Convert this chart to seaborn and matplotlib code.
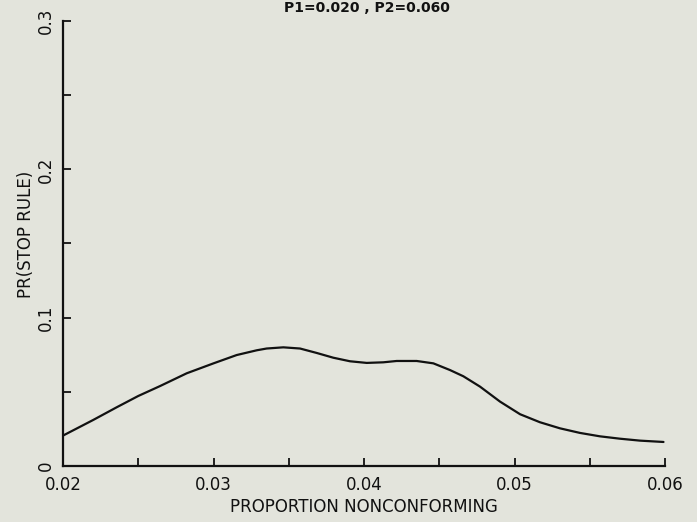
import matplotlib
matplotlib.use("Agg")
import matplotlib.pyplot as plt
import seaborn as sns
import pandas as pd
from matplotlib.ticker import MultipleLocator, FixedLocator

# Data
proportion = [0.0200, 0.0220, 0.02357, 0.0250, 0.02645, 0.02822, 0.0300, 0.03154,
              0.03287, 0.03353, 0.03464, 0.03575, 0.03686, 0.03796, 0.03907,
              0.04018, 0.04128, 0.04217, 0.04350, 0.04461, 0.04571, 0.04660,
              0.04771, 0.04904, 0.05037, 0.05169, 0.05302, 0.05435, 0.05568,
              0.05701, 0.05834, 0.05990]
pr_stop = [0.0205, 0.0310, 0.0396, 0.0472, 0.0539, 0.0625, 0.0692, 0.0748,
           0.0780, 0.0792, 0.0800, 0.0792, 0.0762, 0.0730, 0.0706,
           0.0695, 0.0699, 0.0708, 0.0708, 0.0692, 0.0647, 0.0605,
           0.0535, 0.0434, 0.0349, 0.0295, 0.0254, 0.0223, 0.0200,
           0.0184, 0.0171, 0.0162]
x_ticks = [0.02, 0.03, 0.04, 0.05, 0.06]
x_tick_labels = ["0.02", "0.03", "0.04", "0.05", "0.06"]
y_ticks = [0.0, 0.1, 0.2, 0.3]
y_tick_labels = ["0", "0.1", "0.2", "0.3"]
title = "P1=0.020 , P2=0.060"

df = pd.DataFrame({"p": proportion, "pr": pr_stop})

sns.set_style("ticks")
plt.rcParams["font.family"] = ["DejaVu Sans"]
bg = "#e3e4dc"

fig = plt.figure(figsize=(6.97, 5.22), dpi=100, facecolor=bg)
ax = fig.add_axes([63/697, 56/522, (665-63)/697, (466-21)/522])
ax.set_facecolor(bg)

sns.lineplot(data=df, x="p", y="pr", ax=ax, color="#111111", linewidth=1.6)

ax.set_xlim(0.02, 0.06)
ax.set_ylim(0.0, 0.3)
ax.xaxis.set_major_locator(FixedLocator(x_ticks))
ax.set_xticklabels(x_tick_labels)
ax.xaxis.set_minor_locator(MultipleLocator(0.005))
ax.yaxis.set_major_locator(FixedLocator(y_ticks))
ax.set_yticklabels(y_tick_labels, rotation=90, va="center")
ax.yaxis.set_minor_locator(MultipleLocator(0.05))

ax.tick_params(axis="both", which="both", direction="in", length=6, width=1.3,
               color="#111111", labelsize=12, labelcolor="#111111")
ax.tick_params(axis="x", which="both", pad=7)
ax.tick_params(axis="y", which="both", pad=6)

for s in ["top", "right"]:
    ax.spines[s].set_visible(False)
for s in ["left", "bottom"]:
    ax.spines[s].set_linewidth(1.6)
    ax.spines[s].set_color("#111111")

ax.set_xlabel("PROPORTION NONCONFORMING", fontsize=12, color="#111111", labelpad=3)
ax.set_ylabel("PR(STOP RULE)", fontsize=12, color="#111111", labelpad=0)
ax.yaxis.set_label_coords(-(63 - 35) / 602, 0.52)

fig.text(367/697, 1 - 8/522, title, ha="center", va="center", fontsize=10,
         fontweight="bold", color="#111111")

fig.savefig("out.png", dpi=100, facecolor=bg)
